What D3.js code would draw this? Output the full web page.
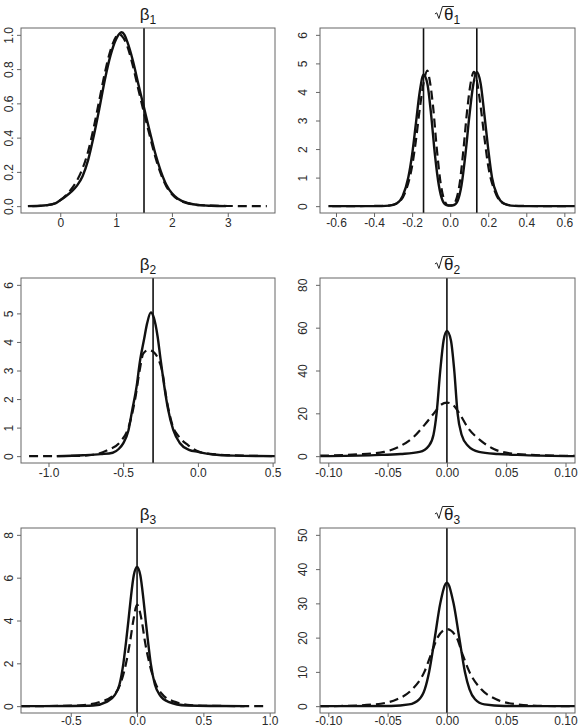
<!DOCTYPE html>
<html>
<head>
<meta charset="utf-8">
<script src="https://cdn.jsdelivr.net/npm/d3@7"></script>
<style>
  body { margin: 0; background: #fff; }
  svg { display: block; font-family: "Liberation Sans", Arial, Helvetica, sans-serif; }
  .tick-label { font-size: 12px; fill: #2a2a2a; }
  .title { font-size: 17px; fill: #1a1a1a; }
</style>
</head>
<body>
<div id="chart"></div>
<script>
/* posterior densities: solid and dashed curves, vertical line = true value */

// beta 1
const beta1Solid = [[-0.58,0],[-0.3,0.004],[-0.1,0.015],[0,0.035],[0.1,0.058],[0.2,0.085],[0.3,0.12],[0.4,0.175],[0.5,0.27],[0.6,0.41],[0.7,0.57],[0.8,0.74],[0.9,0.88],[1.0,0.975],[1.1,1.015],[1.15,1.0],[1.2,0.96],[1.3,0.85],[1.4,0.71],[1.5,0.575],[1.6,0.44],[1.7,0.31],[1.8,0.205],[1.9,0.125],[2.0,0.075],[2.1,0.045],[2.3,0.017],[2.5,0.006],[2.7,0.002],[2.97,0]];
const beta1Dashed = [[-0.5,0],[-0.2,0.007],[0,0.035],[0.2,0.1],[0.3,0.15],[0.4,0.22],[0.5,0.32],[0.6,0.46],[0.7,0.62],[0.8,0.78],[0.9,0.91],[1.0,0.99],[1.05,1.005],[1.1,0.995],[1.2,0.935],[1.3,0.82],[1.4,0.68],[1.5,0.545],[1.6,0.415],[1.7,0.29],[1.8,0.19],[1.9,0.115],[2.0,0.07],[2.2,0.025],[2.5,0.006],[3.0,0.001],[3.7,0]];
const beta1True = [1.5];

// sqrt theta 1
const theta1Solid = [[-0.64,0],[-0.4,0],[-0.32,0.02],[-0.28,0.1],[-0.25,0.35],[-0.22,1.0],[-0.2,1.8],[-0.18,2.9],[-0.16,4.0],[-0.14,4.6],[-0.12,4.3],[-0.1,3.2],[-0.08,1.8],[-0.06,0.75],[-0.04,0.2],[-0.02,0.04],[0.0,0.02],[0.02,0.04],[0.04,0.2],[0.06,0.75],[0.08,1.8],[0.1,3.1],[0.12,4.2],[0.14,4.7],[0.16,4.3],[0.18,3.2],[0.2,2.0],[0.22,1.0],[0.25,0.35],[0.28,0.1],[0.32,0.02],[0.4,0],[0.66,0]];
const theta1Dashed = [[-0.62,0],[-0.35,0.01],[-0.3,0.05],[-0.26,0.2],[-0.23,0.6],[-0.2,1.4],[-0.18,2.3],[-0.16,3.4],[-0.14,4.3],[-0.12,4.75],[-0.11,4.5],[-0.09,3.5],[-0.07,2.0],[-0.05,0.8],[-0.03,0.2],[-0.01,0.03],[0.01,0.03],[0.03,0.2],[0.05,0.8],[0.07,2.0],[0.09,3.4],[0.11,4.4],[0.125,4.7],[0.14,4.4],[0.16,3.5],[0.18,2.4],[0.2,1.4],[0.23,0.6],[0.26,0.2],[0.3,0.05],[0.35,0.01],[0.62,0]];
const theta1True = [-0.14, 0.14];

// beta 2
const beta2Solid = [[-0.945,0],[-0.77,0.03],[-0.65,0.07],[-0.57,0.12],[-0.53,0.25],[-0.5,0.45],[-0.465,0.9],[-0.44,1.6],[-0.41,2.45],[-0.39,3.25],[-0.36,4.1],[-0.34,4.65],[-0.315,5.03],[-0.295,4.85],[-0.27,4.2],[-0.25,3.4],[-0.225,2.45],[-0.2,1.65],[-0.165,0.92],[-0.12,0.45],[-0.06,0.22],[0,0.15],[0.1,0.06],[0.24,0.02],[0.52,0]];
const beta2Dashed = [[-1.13,0],[-0.8,0.01],[-0.7,0.05],[-0.61,0.2],[-0.52,0.5],[-0.465,1.0],[-0.42,2.0],[-0.39,3.0],[-0.365,3.6],[-0.33,3.72],[-0.3,3.66],[-0.265,3.4],[-0.24,3.0],[-0.21,2.0],[-0.165,1.0],[-0.13,0.7],[-0.065,0.38],[0.01,0.15],[0.08,0.08],[0.24,0.03],[0.52,0]];
const beta2True = [-0.3];

// sqrt theta 2
const theta2Solid = [[-0.107,0],[-0.061,0.5],[-0.039,1],[-0.023,2],[-0.015,5],[-0.0113,10],[-0.0087,20],[-0.0056,40],[-0.0028,54],[0,58.5],[0.0034,54],[0.0062,40],[0.009,20],[0.0124,10],[0.0175,5],[0.027,2],[0.043,1],[0.065,0.5],[0.108,0]];
const theta2Dashed = [[-0.107,0.2],[-0.076,0.8],[-0.053,2.0],[-0.04,4.5],[-0.028,9],[-0.019,14.5],[-0.011,20],[-0.005,24],[0,25],[0.005,24],[0.0105,20],[0.018,13],[0.028,7.5],[0.04,3.2],[0.055,1.2],[0.075,0.5],[0.108,0.1]];
const theta2True = [0];

// beta 3
const beta3Solid = [[-0.875,0],[-0.5,0.01],[-0.33,0.03],[-0.23,0.2],[-0.17,0.5],[-0.133,1],[-0.103,2],[-0.083,3],[-0.065,4],[-0.048,5],[-0.025,6.1],[0,6.5],[0.025,6.1],[0.048,5],[0.065,4],[0.083,3],[0.103,2],[0.135,1],[0.173,0.5],[0.236,0.2],[0.37,0.03],[0.81,0]];
const beta3Dashed = [[-0.875,0],[-0.5,0.02],[-0.4,0.05],[-0.28,0.2],[-0.178,0.5],[-0.128,1],[-0.083,2],[-0.053,3],[-0.028,4],[0,4.74],[0.035,4],[0.06,3],[0.093,2],[0.143,1],[0.198,0.5],[0.286,0.2],[0.4,0.05],[0.6,0.01],[0.976,0]];
const beta3True = [0];

// sqrt theta 3
const theta3Solid = [[-0.107,0],[-0.047,0.05],[-0.032,0.5],[-0.0234,2],[-0.0186,5],[-0.015,10],[-0.0102,20],[-0.0056,30],[0,36],[0.0056,30],[0.0104,20],[0.0152,10],[0.019,5],[0.0237,2],[0.0316,0.5],[0.0485,0.05],[0.108,0]];
const theta3Dashed = [[-0.107,0],[-0.09,0.05],[-0.0615,0.5],[-0.042,2],[-0.029,5],[-0.019,10],[-0.0135,15],[-0.0079,20],[0,22.5],[0.0082,20],[0.0133,15],[0.019,10],[0.0288,5],[0.0415,2],[0.06,0.5],[0.082,0.05],[0.108,0]];
const theta3True = [0];

// axis limits and tick labels
const xLims = [[-0.703, 3.846], [-0.684, 0.656], [-1.184, 0.516], [-0.107, 0.108], [-0.875, 1.04], [-0.107, 0.108]];
const yLims = [[0, 1], [0, 6], [0, 6], [0, 80], [0, 8], [0, 50]];
const xTicks = [["0","1","2","3"], ["-0.6","-0.4","-0.2","0.0","0.2","0.4","0.6"], ["-1.0","-0.5","0.0","0.5"], ["-0.10","-0.05","0.00","0.05","0.10"], ["-0.5","0.0","0.5","1.0"], ["-0.10","-0.05","0.00","0.05","0.10"]];
const yTicks = [["0.0","0.2","0.4","0.6","0.8","1.0"], ["0","1","2","3","4","5","6"], ["0","1","2","3","4","5","6"], ["0","20","40","60","80"], ["0","2","4","6","8"], ["0","10","20","30","40","50"]];
const titleSymbols = ["β", "θ", "β", "θ", "β", "θ"];
const titleSubs = ["1", "1", "2", "2", "3", "3"];

const panels = [
    {solid: beta1Solid, dashed: beta1Dashed, truth: beta1True, sqrt: false},
    {solid: theta1Solid, dashed: theta1Dashed, truth: theta1True, sqrt: true},
    {solid: beta2Solid, dashed: beta2Dashed, truth: beta2True, sqrt: false},
    {solid: theta2Solid, dashed: theta2Dashed, truth: theta2True, sqrt: true},
    {solid: beta3Solid, dashed: beta3Dashed, truth: beta3True, sqrt: false},
    {solid: theta3Solid, dashed: theta3Dashed, truth: theta3True, sqrt: true}
];

const width = 583, height = 728;
const colLeft = [21, 320], colRight = [275, 575];
const rowTop = [28, 278, 528], boxH = 185;
const ink = "#111";

const svg = d3.select("#chart")
    .append("svg")
    .attr("width", width)
    .attr("height", height);

svg.append("rect").attr("width", width).attr("height", height).attr("fill", "#fff");

panels.forEach((p, i) => {
    const col = i % 2, row = Math.floor(i / 2);
    const x0 = colLeft[col], x1 = colRight[col];
    const y0 = rowTop[row], y1 = y0 + boxH;

    // R style 4% padding around ylim
    const [ylo, yhi] = yLims[i];
    const pad = (yhi - ylo) * 0.04;
    const x = d3.scaleLinear().domain(xLims[i]).range([x0, x1]);
    const y = d3.scaleLinear().domain([ylo - pad, yhi + pad]).range([y1, y0]);

    const g = svg.append("g");
    const clipId = `clip${i}`;
    g.append("clipPath").attr("id", clipId)
        .append("rect")
        .attr("x", x0).attr("y", y0)
        .attr("width", x1 - x0).attr("height", y1 - y0);

    const line = d3.line()
        .x(d => x(d[0]))
        .y(d => y(d[1]))
        .curve(d3.curveMonotoneX);

    const plot = g.append("g").attr("clip-path", `url(#${clipId})`);

    // true value lines
    plot.selectAll("line.truth")
        .data(p.truth)
        .enter()
        .append("line")
        .attr("x1", d => x(d)).attr("x2", d => x(d))
        .attr("y1", y0).attr("y2", y1)
        .attr("stroke", ink)
        .attr("stroke-width", 1.6);

    plot.append("path")
        .datum(p.dashed)
        .attr("d", line)
        .attr("fill", "none")
        .attr("stroke", ink)
        .attr("stroke-width", 2.2)
        .attr("stroke-dasharray", "9,5");

    plot.append("path")
        .datum(p.solid)
        .attr("d", line)
        .attr("fill", "none")
        .attr("stroke", ink)
        .attr("stroke-width", 2.4);

    // box
    g.append("rect")
        .attr("x", x0).attr("y", y0)
        .attr("width", x1 - x0).attr("height", y1 - y0)
        .attr("fill", "none")
        .attr("stroke", "#666")
        .attr("stroke-width", 1);

    // x axis (bottom row sits at the page edge, pull labels up a little)
    const xAxis = d3.axisBottom(x)
        .tickValues(xTicks[i].map(Number))
        .tickFormat((d, k) => xTicks[i][k])
        .tickSize(4)
        .tickPadding(2);
    const xg = g.append("g")
        .attr("transform", `translate(0, ${y1})`)
        .call(xAxis);
    xg.select(".domain").remove();
    xg.selectAll("line").attr("stroke", "#666");
    xg.selectAll("text")
        .attr("class", "tick-label")
        .attr("dy", null)
        .attr("y", row === 2 ? 12.3 : 14);
    xg.attr("font-family", null).attr("font-size", null);

    // y axis, labels parallel to the axis
    const yAxis = d3.axisLeft(y)
        .tickValues(yTicks[i].map(Number))
        .tickFormat((d, k) => yTicks[i][k])
        .tickSize(4);
    const yg = g.append("g")
        .attr("transform", `translate(${x0}, 0)`)
        .call(yAxis);
    yg.select(".domain").remove();
    yg.selectAll("line").attr("stroke", "#666");
    const labelOff = col === 0 ? 12.5 : 17;
    yg.selectAll("text")
        .attr("class", "tick-label")
        .attr("x", null)
        .attr("text-anchor", "middle")
        .attr("transform", `translate(${-labelOff}, 0) rotate(-90)`)
        .attr("dy", "0.36em");
    yg.attr("font-family", null).attr("font-size", null);

    // title
    const cx = (x0 + x1) / 2, base = y0 - 8;
    const t = g.append("text")
        .attr("class", "title")
        .attr("y", base);
    const main = t.append("tspan").text(titleSymbols[i]);
    t.append("tspan")
        .attr("dy", 4)
        .style("font-size", "12px")
        .text(titleSubs[i]);
    const totalW = t.node().getComputedTextLength();
    const symW = main.node().getComputedTextLength();
    const radW = p.sqrt ? 9 : 0;
    const tx = cx - (radW + totalW) / 2 + radW;
    t.attr("x", tx);
    if (p.sqrt) {
        const xr = tx - radW;
        g.append("path")
            .attr("d", `M${xr},${base - 6} L${xr + 1.8},${base - 7.2} L${xr + 4},${base - 1.5} L${xr + 7.5},${base - 13.5} L${tx + symW + 0.5},${base - 13.5}`)
            .attr("fill", "none")
            .attr("stroke", "#222")
            .attr("stroke-width", 1);
    }
});
</script>
</body>
</html>
